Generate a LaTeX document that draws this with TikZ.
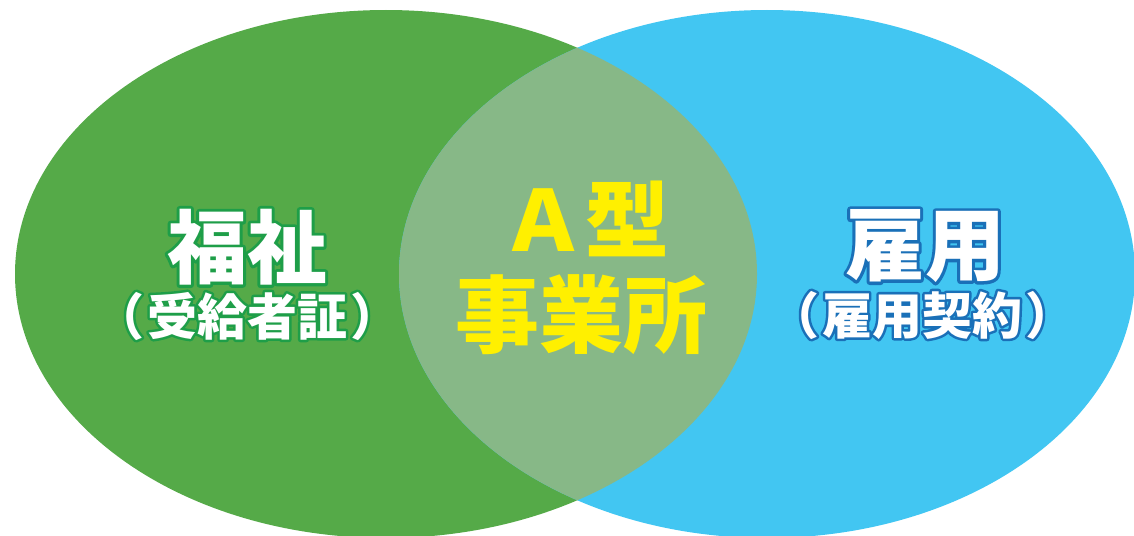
\documentclass[tikz,border=0pt]{standalone}
\usepackage{fontspec}
\newfontfamily\cjk{Noto Sans CJK JP}
\definecolor{gfill}{HTML}{55AA48}
\definecolor{bfill}{HTML}{42C6F2}
\definecolor{ofill}{HTML}{87B887}
\definecolor{gline}{HTML}{1E9E48}
\definecolor{bline}{HTML}{1A70B8}
\definecolor{ayel}{HTML}{FFF000}
\newcommand\strk[2]{\special{pdf:literal direct 2 Tr #1 w 1 j}#2\special{pdf:literal direct 0 Tr}}
\tikzset{
  bigtxt/.style={inner sep=0pt, font=\cjk\bfseries\fontsize{80}{80}\selectfont},
  subtxt/.style={inner sep=0pt, font=\cjk\bfseries\fontsize{50}{50}\selectfont},
  ctrtxt/.style={inner sep=0pt, font=\cjk\bfseries\fontsize{84}{84}\selectfont, text=ayel},
}
\begin{document}
\begin{tikzpicture}[x=1pt,y=-1pt]
\useasboundingbox (0,0) rectangle (1134,535);
\fill[gfill] (386,274) ellipse [x radius=371pt, y radius=264pt];
\fill[bfill] (767,274) ellipse [x radius=368pt, y radius=264pt];
\begin{scope}
  \clip (386,274) ellipse [x radius=371pt, y radius=264pt];
  \fill[ofill] (767,274) ellipse [x radius=368pt, y radius=264pt];
\end{scope}
% outlines
\node[bigtxt, text=gline] (fukline) at (247,247) {\strk{6}{福祉}};
\node[bigtxt, text=bline] (koyline) at (925,246) {\strk{6}{雇用}};
\node[subtxt, text=gline] (fuksubline) at (247,316) {\strk{5}{（\hspace{3pt}受給者証\hspace{3pt}）}};
\node[subtxt, text=bline] (koysubline) at (922,315) {\strk{5}{（\hspace{3pt}雇用契約\hspace{3pt}）}};
% fills
\node[bigtxt, text=white] (fuk) at (247,247) {福祉};
\node[bigtxt, text=white] (koy) at (925,246) {雇用};
\node[subtxt, text=white] (fuksub) at (247,316) {（\hspace{3pt}受給者証\hspace{3pt}）};
\node[subtxt, text=white] (koysub) at (922,315) {（\hspace{3pt}雇用契約\hspace{3pt}）};
\node[ctrtxt] (atype) at (585,219) {Ａ型};
\node[ctrtxt] (jigyo) at (581,315) {事業所};
\end{tikzpicture}
\end{document}
